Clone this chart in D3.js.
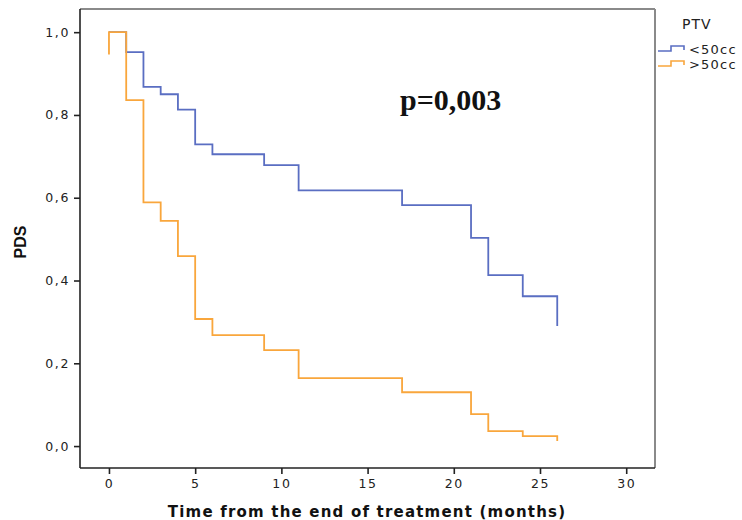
<!DOCTYPE html>
<html lang="en">
<head>
  <meta charset="UTF-8">
  <title>PDS by PTV</title>
  <script src="https://cdn.jsdelivr.net/npm/d3@7"></script>
  <style>
    body { margin: 0; background: #fff; }
    .tick text { font: 12.5px "DejaVu Sans", sans-serif; fill: #222; letter-spacing: 1.6px; }
  </style>
</head>
<body>
<svg id="chart" width="742" height="520"></svg>
<script>
// step points [months, survival]
var lowPTV = [[0, 1], [1, 0.952], [2, 0.868], [3, 0.850], [4, 0.813], [5, 0.729], [6, 0.705],
              [9, 0.679], [11, 0.618], [17, 0.582], [21, 0.503], [22, 0.413], [24, 0.362], [26, 0.290]];
var highPTV = [[0, 0.946], [0, 1], [1, 0.836], [2, 0.589], [3, 0.544], [4, 0.459], [5, 0.307],
               [6, 0.268], [9, 0.232], [11, 0.164], [17, 0.130], [21, 0.077], [22, 0.036], [24, 0.024], [26, 0.012]];
var groups = ["<50cc", ">50cc"];
var colors = ["#5a6ec2", "#f9a63c"];
var xTicks = [0, 5, 10, 15, 20, 25, 30];
var yTicks = [0, 0.2, 0.4, 0.6, 0.8, 1.0];

var svg = d3.select("#chart");
var frame = {left: 80, right: 655, top: 9, bottom: 468};

var x = d3.scaleLinear().domain([-1.68, 31.67]).range([frame.left, frame.right]);
var y = d3.scaleLinear().domain([-0.053, 1.056]).range([frame.bottom, frame.top]);

// frame: top/right lighter
svg.append("line").attr("x1", frame.left).attr("x2", frame.right).attr("y1", frame.top).attr("y2", frame.top)
  .attr("stroke", "#8a8a8a").attr("stroke-width", 2);
svg.append("line").attr("x1", frame.right).attr("x2", frame.right).attr("y1", frame.top).attr("y2", frame.bottom)
  .attr("stroke", "#8a8a8a").attr("stroke-width", 2);

var fmt = function(d) { return d3.format(".1f")(d).replace(".", ","); };

var yAxis = svg.append("g")
  .attr("transform", "translate(" + frame.left + ",0)")
  .call(d3.axisLeft(y).tickValues(yTicks).tickFormat(fmt).tickSize(6).tickPadding(4));
var xAxis = svg.append("g")
  .attr("transform", "translate(0," + frame.bottom + ")")
  .call(d3.axisBottom(x).tickValues(xTicks).tickSize(6).tickPadding(5));

[yAxis, xAxis].forEach(function(ax) {
  ax.select(".domain").attr("stroke", "#222").attr("stroke-width", 1.6);
  ax.selectAll(".tick line").attr("stroke", "#222").attr("stroke-width", 1.6);
});
// domain path excludes outer ticks, make it span the whole frame
yAxis.select(".domain").attr("d", "M0," + frame.top + "V" + frame.bottom);
xAxis.select(".domain").attr("d", "M" + frame.left + ",0H" + frame.right);

var line = d3.line()
  .x(function(d) { return x(d[0]); })
  .y(function(d) { return y(d[1]); })
  .curve(d3.curveStepAfter);

// blue first, orange drawn over it
[lowPTV, highPTV].forEach(function(s, i) {
  svg.append("path")
    .datum(s)
    .attr("fill", "none")
    .attr("stroke", colors[i])
    .attr("stroke-width", 1.8)
    .attr("d", line);
});

// annotation
svg.append("text")
  .attr("x", 400).attr("y", 110)
  .attr("font-family", "'Liberation Serif', 'Times New Roman', serif")
  .attr("font-weight", "bold")
  .attr("font-size", 30)
  .attr("fill", "#111")
  .text("p=0,003");

// axis titles
svg.append("text")
  .attr("transform", "translate(26,242) rotate(-90)")
  .attr("text-anchor", "middle")
  .attr("font-family", "'Liberation Sans', Arial, sans-serif")
  .attr("font-weight", "bold")
  .attr("font-size", 16)
  .attr("fill", "#111")
  .text("PDS");

svg.append("text")
  .attr("x", 367).attr("y", 517)
  .attr("text-anchor", "middle")
  .attr("font-family", "'DejaVu Sans', sans-serif")
  .attr("font-weight", "bold")
  .attr("font-size", 15)
  .attr("letter-spacing", 1.2)
  .attr("fill", "#111")
  .text("Time from the end of treatment (months)");

// legend
var legend = svg.append("g");
legend.append("text")
  .attr("x", 682).attr("y", 29)
  .attr("font-family", "'DejaVu Sans', sans-serif")
  .attr("font-size", 14)
  .attr("letter-spacing", 1)
  .attr("fill", "#222")
  .text("PTV");

groups.forEach(function(g, i) {
  var ly = 49 + i * 15;
  legend.append("path")
    .attr("d", "M658," + (ly + 2) + "H671V" + (ly - 3) + "H684V" + (ly + 1))
    .attr("fill", "none")
    .attr("stroke", colors[i])
    .attr("stroke-width", 1.6);
  legend.append("text")
    .attr("x", 689).attr("y", ly + 5)
    .attr("font-family", "'DejaVu Sans', sans-serif")
    .attr("font-size", 13)
    .attr("letter-spacing", 1.2)
    .attr("fill", "#222")
    .text(g);
});
</script>
</body>
</html>
